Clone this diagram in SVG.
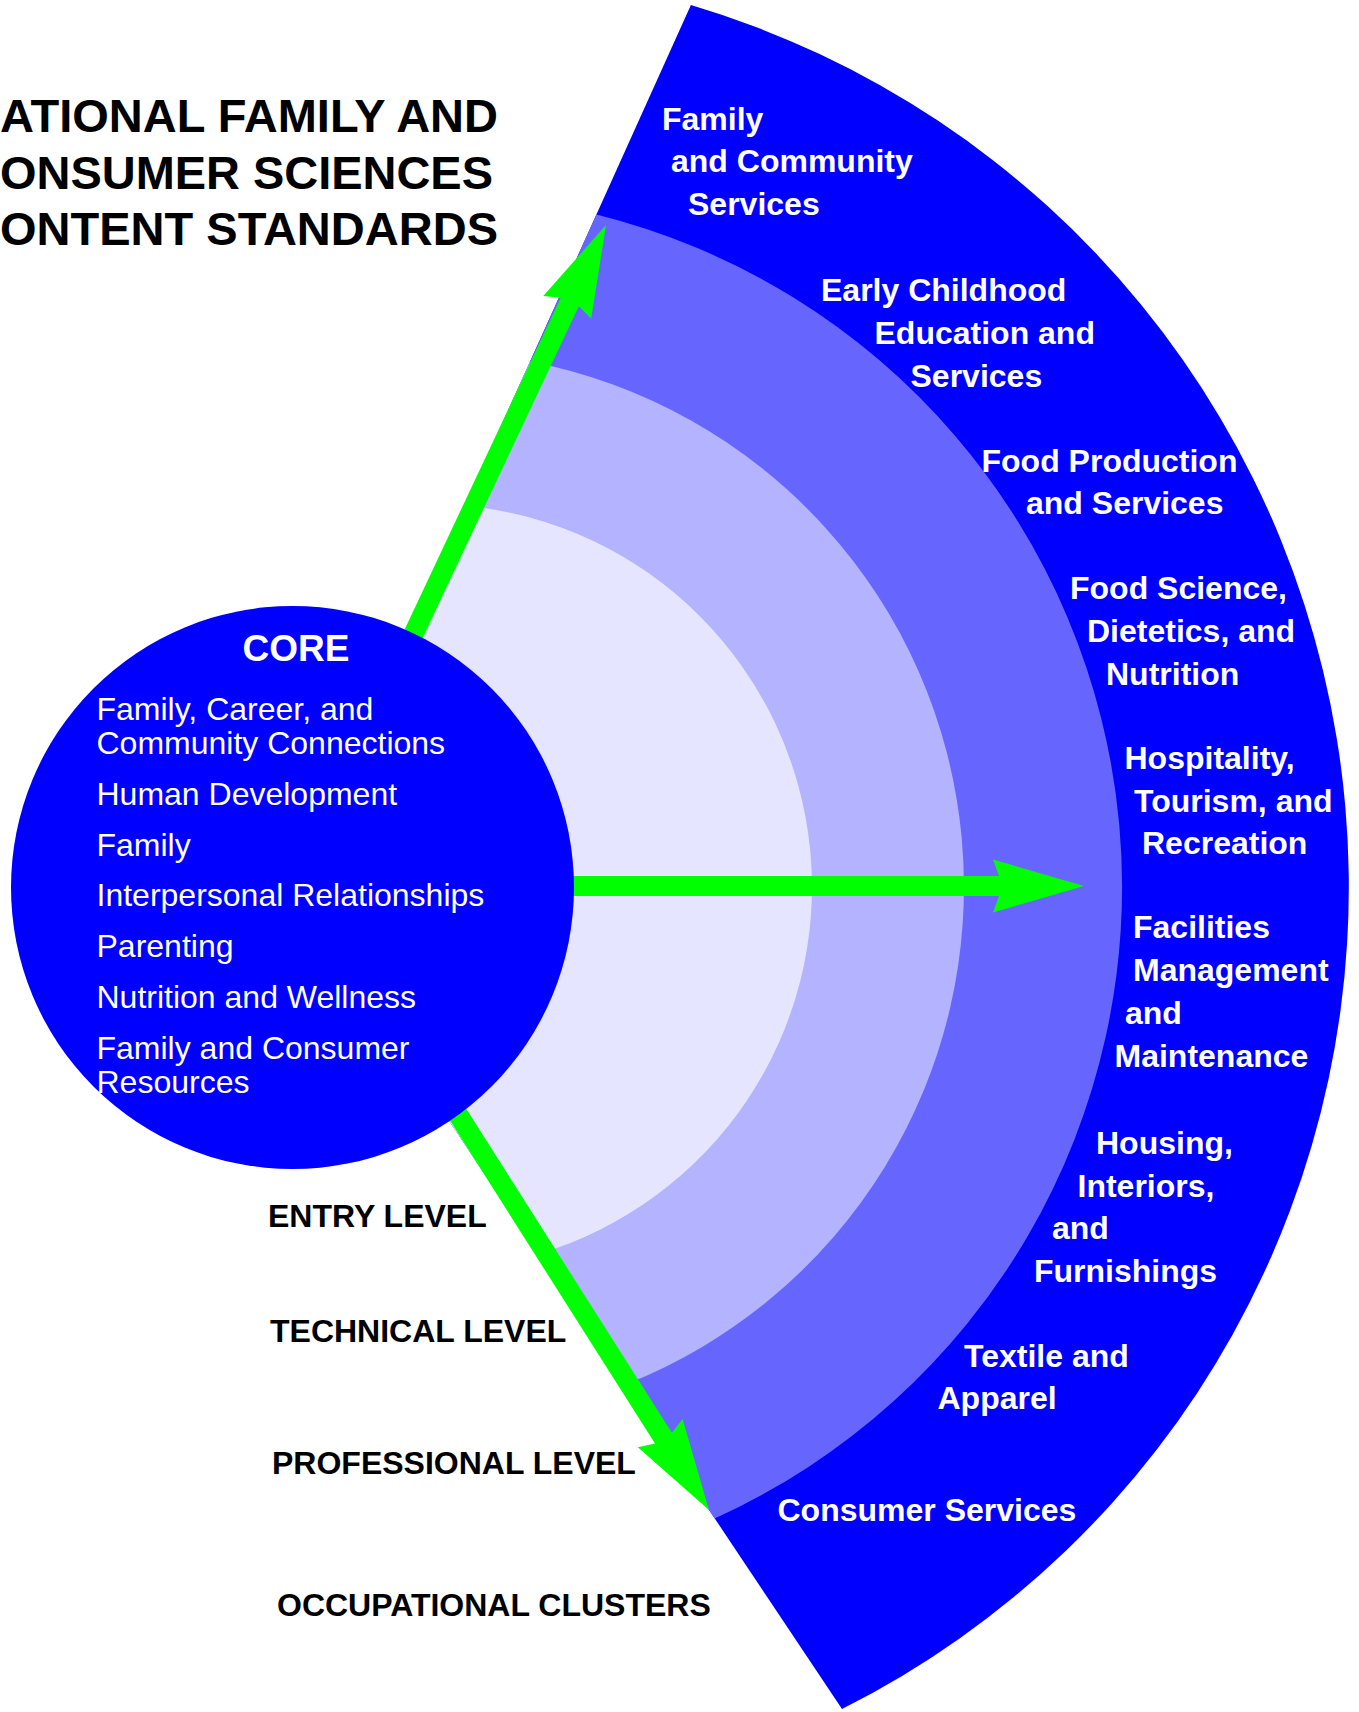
<svg xmlns="http://www.w3.org/2000/svg" width="1359" height="1712" viewBox="0 0 1359 1712">
<style>
text{font-family:"Liberation Sans",Arial,Helvetica,sans-serif}
.title{font-weight:bold;font-size:47px;fill:#000}
.lbl{font-weight:bold;font-size:32px;fill:#fff}
.lvl{font-weight:bold;font-size:32px;fill:#000}
.item{font-size:32px;fill:#fff}
.corehead{font-weight:bold;font-size:37px;fill:#fff}
.arrow{fill:#00ff00}
</style>
<rect width="1359" height="1712" fill="#fff"/>

<g id="title">
<text class="title" x="0" y="132" textLength="498" lengthAdjust="spacingAndGlyphs">ATIONAL FAMILY AND</text>
<text class="title" x="0" y="189" textLength="493" lengthAdjust="spacingAndGlyphs">ONSUMER SCIENCES</text>
<text class="title" x="0" y="245" textLength="498" lengthAdjust="spacingAndGlyphs">ONTENT STANDARDS</text>
</g>

<g id="fan">
<path id="band-occupational" d="M293 887 L690.9 5.1 A920 920 0 0 1 842 1709 Z" fill="#0000ff"/>
<path id="band-professional" d="M293 887 L596.4 214.5 A693 693 0 0 1 714.7 1518.4 Z" fill="#6666ff"/>
<path id="band-technical" d="M293 887 L530 361.6 A535 535 0 0 1 625.4 1384.6 Z" fill="#b3b3ff"/>
<path id="band-entry" d="M293 887 L465 505.7 A383 383 0 0 1 538.2 1254.1 Z" fill="#e5e5ff"/>
</g>

<g id="connectors">
<polygon id="arrow-up" class="arrow" points="0,0 -91,-26.5 -85,-10 -455,-10 -455,10 -85,10 -91,26.5" transform="translate(606 225) rotate(-64.8)"/>
<polygon id="arrow-right" class="arrow" points="0,0 -91,-26.5 -85,-10 -515,-10 -515,10 -85,10 -91,26.5" transform="translate(1084 886)"/>
<polygon id="arrow-down" class="arrow" points="0,0 -91,-26.5 -85,-10 -470,-10 -470,10 -85,10 -91,26.5" transform="translate(709 1510) rotate(57.6)"/>
</g>

<g id="core">
<circle cx="292.5" cy="887.5" r="281.5" fill="#0000ff"/>
<text class="corehead" x="296" y="661" text-anchor="middle">CORE</text>
<text class="item" x="96.5" y="719.5">Family, Career, and</text>
<text class="item" x="96.5" y="754">Community Connections</text>
<text class="item" x="96.5" y="805">Human Development</text>
<text class="item" x="96.5" y="855.5">Family</text>
<text class="item" x="96.5" y="906">Interpersonal Relationships</text>
<text class="item" x="96.5" y="957">Parenting</text>
<text class="item" x="96.5" y="1007.5">Nutrition and Wellness</text>
<text class="item" x="96.5" y="1058.5">Family and Consumer</text>
<text class="item" x="96.5" y="1093">Resources</text>
</g>

<g id="cluster-family-community">
<text class="lbl" x="662" y="130">Family</text>
<text class="lbl" x="671" y="172">and Community</text>
<text class="lbl" x="688" y="215">Services</text>
</g>
<g id="cluster-early-childhood">
<text class="lbl" x="821" y="301">Early Childhood</text>
<text class="lbl" x="874.5" y="344">Education and</text>
<text class="lbl" x="910.5" y="386.5">Services</text>
</g>
<g id="cluster-food-production">
<text class="lbl" x="981.5" y="471.5">Food Production</text>
<text class="lbl" x="1026" y="514">and Services</text>
</g>
<g id="cluster-food-science">
<text class="lbl" x="1070" y="599">Food Science,</text>
<text class="lbl" x="1087" y="642">Dietetics, and</text>
<text class="lbl" x="1106" y="684.5">Nutrition</text>
</g>
<g id="cluster-hospitality">
<text class="lbl" x="1124.5" y="769">Hospitality,</text>
<text class="lbl" x="1134" y="811.5">Tourism, and</text>
<text class="lbl" x="1142" y="854">Recreation</text>
</g>
<g id="cluster-facilities">
<text class="lbl" x="1133" y="938">Facilities</text>
<text class="lbl" x="1133" y="981">Management</text>
<text class="lbl" x="1125" y="1024">and</text>
<text class="lbl" x="1114.5" y="1066.5">Maintenance</text>
</g>
<g id="cluster-housing">
<text class="lbl" x="1096" y="1154">Housing,</text>
<text class="lbl" x="1077.5" y="1196.5">Interiors,</text>
<text class="lbl" x="1052" y="1239">and</text>
<text class="lbl" x="1034" y="1281.5">Furnishings</text>
</g>
<g id="cluster-textile">
<text class="lbl" x="964" y="1366.5">Textile and</text>
<text class="lbl" x="937.5" y="1409">Apparel</text>
</g>
<g id="cluster-consumer">
<text class="lbl" x="777.5" y="1520.5">Consumer Services</text>
</g>

<g id="levels">
<text class="lvl" x="268" y="1227">ENTRY LEVEL</text>
<text class="lvl" x="270" y="1341.5">TECHNICAL LEVEL</text>
<text class="lvl" x="272" y="1473.5">PROFESSIONAL LEVEL</text>
<text class="lvl" x="277" y="1615.5">OCCUPATIONAL CLUSTERS</text>
</g>
</svg>
